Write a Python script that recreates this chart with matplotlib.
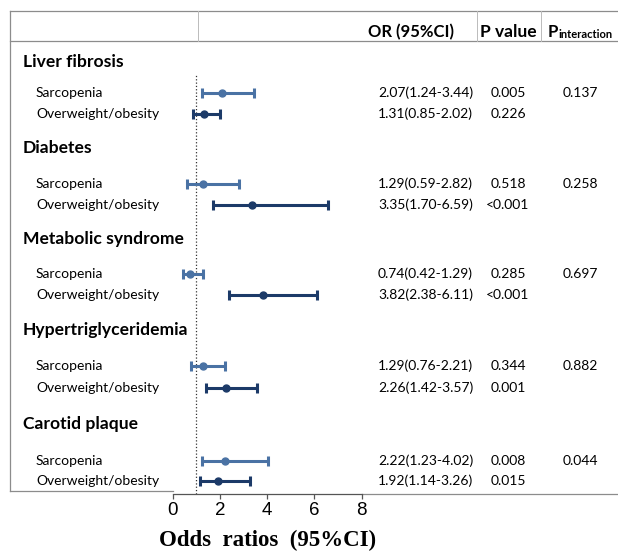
import matplotlib
matplotlib.use('Agg')
import matplotlib.pyplot as plt

plt.rcParams.update({'font.family': ['Lato', 'DejaVu Sans']})

outcomes = ['Liver fibrosis', 'Diabetes', 'Metabolic syndrome', 'Hypertriglyceridemia', 'Carotid plaque']
exposures = ['Sarcopenia', 'Overweight/obesity']

sarc_or = [2.07, 1.29, 0.74, 1.29, 2.22]
sarc_lo = [1.24, 0.59, 0.42, 0.76, 1.23]
sarc_hi = [3.44, 2.82, 1.29, 2.21, 4.02]
sarc_p = ['0.005', '0.518', '0.285', '0.344', '0.008']

over_or = [1.31, 3.35, 3.82, 2.26, 1.92]
over_lo = [0.85, 1.70, 2.38, 1.42, 1.14]
over_hi = [2.02, 6.59, 6.11, 3.57, 3.26]
over_p = ['0.226', '<0.001', '<0.001', '0.001', '0.015']

p_inter = ['0.137', '0.258', '0.697', '0.882', '0.044']

xticks = [0, 2, 4, 6, 8]

# layout (pixel rows)
head_y = [62, 148, 239, 330, 424]
sarc_y = [93, 184, 274, 366, 461]
over_y = [114, 205, 295, 388, 481]

c_sarc = '#4a72a4'
c_over = '#1c3a68'
grey = '#8c8c8c'

W, H = 618, 551
fig = plt.figure(figsize=(W/100., H/100.), dpi=100)

# overlay axes in pixel coordinates
bg = fig.add_axes([0, 0, 1, 1], frameon=False)
bg.set_xlim(0, W)
bg.set_ylim(H, 0)
bg.set_xticks([])
bg.set_yticks([])

# forest axes: x 0..8 spans pixel 172.7..361.7, y in pixels 41..494
x0, x1 = 172.7, 361.7
ytop, ybot = 41, 494
ax = fig.add_axes([x0/W, 1-ybot/float(H), (x1-x0)/W, (ybot-ytop)/float(H)], frameon=True)
ax.patch.set_alpha(0)
ax.set_xlim(0, 8)
ax.set_ylim(ybot, ytop)
for s in ['top', 'right', 'left']:
    ax.spines[s].set_visible(False)
ax.spines['bottom'].set_color('#555555')
ax.spines['bottom'].set_linewidth(0.9)
ax.set_yticks([])
ax.set_xticks(xticks)
ax.set_xticklabels([str(t) for t in xticks], family='Liberation Sans', fontsize=13.5)
ax.tick_params(axis='x', direction='out', length=3.5, width=0.9, color='#555555', pad=2)
ax.set_xlabel('Odds  ratios  (95%CI)', family='Liberation Serif', fontweight='bold', fontsize=16.5, labelpad=8)

ax.axvline(1, ymin=0, ymax=(ybot-75)/float(ybot-ytop), color='#333333', ls=':', lw=0.9)

for i in range(len(outcomes)):
    ax.errorbar(sarc_or[i], sarc_y[i], xerr=[[sarc_or[i]-sarc_lo[i]], [sarc_hi[i]-sarc_or[i]]],
                fmt='o', color=c_sarc, ms=5, elinewidth=2.2, capsize=3.5, capthick=2.2, clip_on=False)
    ax.errorbar(over_or[i], over_y[i], xerr=[[over_or[i]-over_lo[i]], [over_hi[i]-over_or[i]]],
                fmt='o', color=c_over, ms=5, elinewidth=2.2, capsize=3.5, capthick=2.2, clip_on=False)

# table frame
bg.plot([10, W], [11, 11], color=grey, lw=0.9)
bg.plot([10, W], [41, 41], color=grey, lw=0.9)
bg.plot([10, 10], [11, 491], color=grey, lw=0.9)
bg.plot([10, x0], [491, 491], color=grey, lw=0.9)
bg.plot([x1, W], [494, 494], color=grey, lw=0.9)
for xv in [198, 477, 541]:
    bg.plot([xv, xv], [11, 41], color='#bbbbbb', lw=0.7)

# headers
bg.text(411, 32, 'OR (95%CI)', fontsize=12, fontweight='bold', ha='center', va='center')
bg.text(508, 32, 'P value', fontsize=12.5, fontweight='bold', ha='center', va='center')
bg.text(548, 32, 'P', fontsize=12, fontweight='bold', ha='left', va='center')
bg.text(558.5, 35, 'interaction', fontsize=8, fontweight='bold', ha='left', va='center')

for i, name in enumerate(outcomes):
    bg.text(23, head_y[i], name, fontsize=12.6, fontweight='bold', ha='left', va='center')
    bg.text(36, sarc_y[i], exposures[0], fontsize=10, ha='left', va='center')
    bg.text(36, over_y[i], exposures[1], fontsize=10, ha='left', va='center')
    bg.text(378, sarc_y[i], '%.2f(%.2f-%.2f)' % (sarc_or[i], sarc_lo[i], sarc_hi[i]),
            fontsize=10, ha='left', va='center')
    bg.text(378, over_y[i], '%.2f(%.2f-%.2f)' % (over_or[i], over_lo[i], over_hi[i]),
            fontsize=10, ha='left', va='center')
    bg.text(508, sarc_y[i], sarc_p[i], fontsize=10, ha='center', va='center')
    bg.text(508, over_y[i], over_p[i], fontsize=10, ha='center', va='center')
    bg.text(580, sarc_y[i], p_inter[i], fontsize=10, ha='center', va='center')

fig.savefig('out.png', dpi=100)
